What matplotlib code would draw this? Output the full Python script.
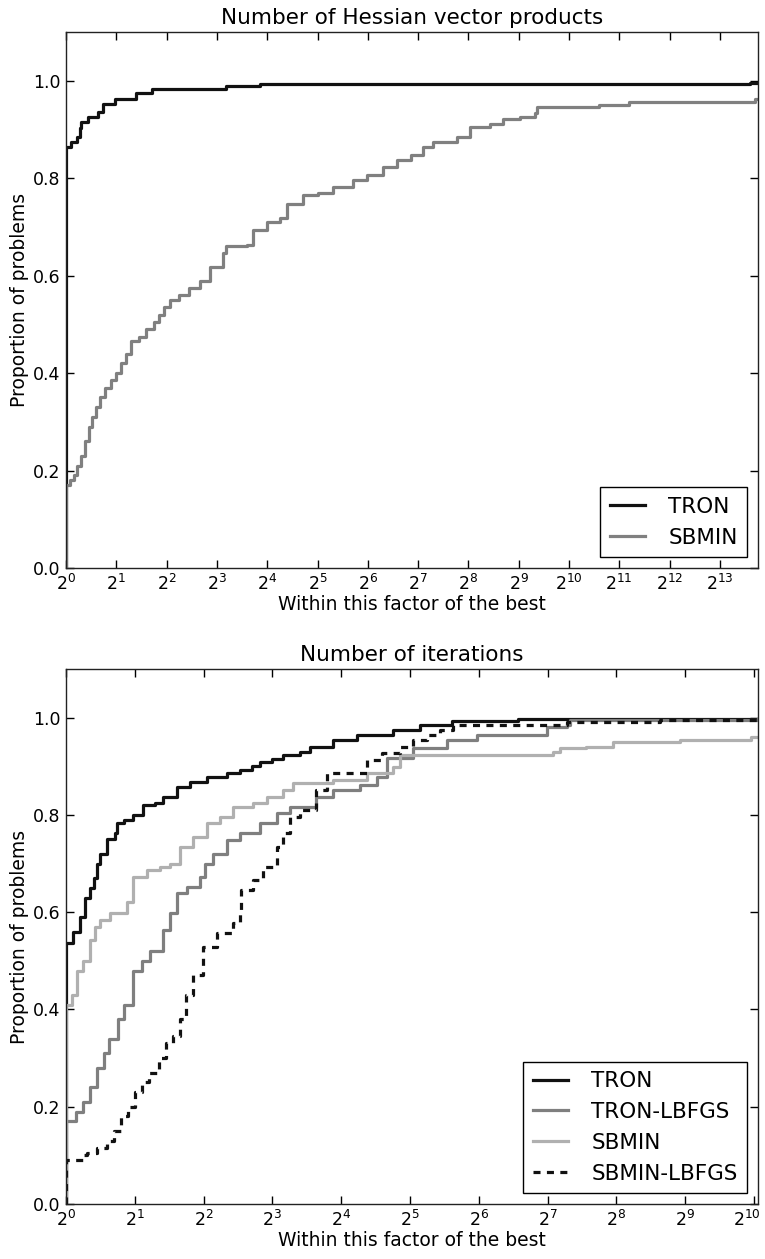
import matplotlib
matplotlib.use('Agg')
import matplotlib.pyplot as plt
from matplotlib.transforms import ScaledTranslation

### Performance profiles, x values are log2 of the ratio to the best solver
### Top panel: number of Hessian vector products
hv_tron_x = [0, 0, 0.1, 0.21, 0.27, 0.3, 0.44, 0.64, 0.74, 0.97, 1.4, 1.7, 3.19, 3.86, 13.6, 13.76]
hv_tron_y = [0, 0.864, 0.875, 0.885, 0.902, 0.916, 0.926, 0.936, 0.953, 0.963, 0.974, 0.984, 0.989, 0.994, 0.996, 0.996]

hv_sbmin_x = [0, 0, 0.08, 0.15, 0.22, 0.3, 0.38, 0.45, 0.52, 0.6, 0.68, 0.78, 0.9, 1.0, 1.1, 1.2, 1.3, 1.45,
              1.6, 1.75, 1.85, 1.95, 2.07, 2.25, 2.45, 2.66, 2.86, 3.12, 3.18, 3.6, 3.72, 3.99, 4.25, 4.39,
              4.72, 5.0, 5.31, 5.71, 5.98, 6.3, 6.58, 6.85, 7.1, 7.3, 7.77, 8.03, 8.43, 8.69, 9.03, 9.32,
              9.36, 10.6, 11.2, 13.7, 13.76]
hv_sbmin_y = [0, 0.17, 0.18, 0.19, 0.21, 0.23, 0.26, 0.29, 0.31, 0.33, 0.35, 0.37, 0.385, 0.40, 0.42, 0.44,
              0.465, 0.475, 0.49, 0.505, 0.52, 0.535, 0.55, 0.56, 0.575, 0.59, 0.617, 0.646, 0.66, 0.663,
              0.693, 0.71, 0.718, 0.748, 0.765, 0.77, 0.782, 0.796, 0.806, 0.823, 0.837, 0.848, 0.864,
              0.874, 0.884, 0.905, 0.911, 0.921, 0.925, 0.933, 0.946, 0.951, 0.957, 0.962, 0.962]

### Bottom panel: number of iterations
it_tron_x = [0, 0, 0.1, 0.2, 0.28, 0.35, 0.4, 0.45, 0.5, 0.59, 0.71, 0.74, 0.85, 0.98, 1.12, 1.3, 1.41, 1.61,
             1.8, 2.05, 2.34, 2.53, 2.7, 2.82, 3.0, 3.16, 3.4, 3.55, 3.88, 4.23, 4.76, 5.14, 5.61, 6.57, 10.06]
it_tron_y = [0, 0.537, 0.56, 0.59, 0.63, 0.65, 0.67, 0.70, 0.72, 0.75, 0.763, 0.783, 0.79, 0.80, 0.82, 0.825,
             0.837, 0.857, 0.868, 0.878, 0.886, 0.892, 0.90, 0.909, 0.915, 0.923, 0.93, 0.94, 0.954, 0.964,
             0.975, 0.985, 0.993, 0.997, 0.997]

it_tronl_x = [0, 0, 0.15, 0.25, 0.35, 0.45, 0.55, 0.62, 0.75, 0.85, 0.98, 1.1, 1.22, 1.41, 1.51, 1.61, 1.76,
              1.95, 2.02, 2.14, 2.34, 2.53, 2.82, 3.07, 3.26, 3.64, 3.88, 4.27, 4.52, 4.67, 5.04, 5.54, 5.98,
              6.99, 7.28, 7.33, 10.06]
it_tronl_y = [0, 0.17, 0.19, 0.21, 0.24, 0.28, 0.31, 0.34, 0.38, 0.41, 0.48, 0.50, 0.52, 0.563, 0.598, 0.64,
              0.652, 0.672, 0.70, 0.72, 0.748, 0.763, 0.783, 0.803, 0.817, 0.837, 0.851, 0.861, 0.878, 0.917,
              0.937, 0.954, 0.964, 0.981, 0.985, 0.995, 0.997]

it_sbmin_x = [0, 0, 0.08, 0.16, 0.25, 0.35, 0.42, 0.5, 0.64, 0.88, 0.98, 1.17, 1.37, 1.51, 1.66, 1.85, 2.05,
              2.24, 2.43, 2.72, 2.92, 3.16, 3.3, 3.88, 4.37, 4.75, 4.85, 7.08, 7.18, 7.56, 7.95, 8.92, 9.95,
              10.06]
it_sbmin_y = [0, 0.41, 0.43, 0.48, 0.50, 0.543, 0.57, 0.584, 0.598, 0.62, 0.672, 0.687, 0.693, 0.70, 0.734,
              0.755, 0.783, 0.796, 0.816, 0.824, 0.837, 0.851, 0.865, 0.872, 0.886, 0.899, 0.923, 0.929,
              0.937, 0.94, 0.95, 0.954, 0.96, 0.96]

it_sbminl_x = [0, 0, 0.25, 0.3, 0.45, 0.6, 0.7, 0.8, 0.9, 1.0, 1.1, 1.2, 1.35, 1.45, 1.55, 1.65, 1.75, 1.85,
               1.99, 2.19, 2.43, 2.53, 2.55, 2.72, 2.86, 3.07, 3.16, 3.26, 3.4, 3.64, 3.79, 4.37, 4.6, 4.85,
               5.04, 5.24, 5.43, 5.62, 7.28, 8.63, 10.06]
it_sbminl_y = [0, 0.09, 0.10, 0.105, 0.115, 0.13, 0.15, 0.18, 0.20, 0.23, 0.25, 0.27, 0.30, 0.33, 0.345,
               0.38, 0.43, 0.47, 0.528, 0.557, 0.578, 0.598, 0.645, 0.666, 0.693, 0.734, 0.763, 0.796, 0.81,
               0.851, 0.886, 0.913, 0.927, 0.94, 0.954, 0.964, 0.975, 0.985, 0.991, 0.995, 0.995]

y_ticks = [0.0, 0.2, 0.4, 0.6, 0.8, 1.0]

LW = 2.3


def style_axes(ax, title, xmax, nticks):
    ax.set_title(title, fontsize=15.5, pad=6)
    ax.set_xlim(0, xmax)
    ax.set_ylim(0, 1.1)
    ax.set_xticks(range(nticks))
    ax.set_xticklabels(['$2^{%d}$' % k for k in range(nticks)])
    ax.set_yticks(y_ticks)
    ax.set_yticklabels(['%.1f' % v for v in y_ticks])
    ax.tick_params(direction='in', top=True, right=True, length=6, width=1,
                   labelsize=12.5, pad=4)
    ax.set_xlabel('Within this factor of the best', fontsize=13.5, labelpad=1)
    ax.set_ylabel('Proportion of problems', fontsize=13.5, labelpad=3)
    for s in ax.spines.values():
        s.set_linewidth(1.0)
        s.set_color('#222222')


def add_legend(ax):
    leg = ax.legend(loc='lower right', fontsize=15.5, fancybox=False, framealpha=1,
                    edgecolor='black', handlelength=1.6, borderpad=0.45, labelspacing=0.5,
                    handletextpad=1.1, borderaxespad=0.5)
    leg.get_frame().set_linewidth(1.0)


fig = plt.figure(figsize=(7.65, 12.59), dpi=100)

ax1 = fig.add_axes([0.0863, 0.5488, 0.9047, 0.4258])
ax1.plot(hv_tron_x, hv_tron_y, drawstyle='steps-post', color='#111111', lw=LW, label='TRON')
ax1.plot(hv_sbmin_x, hv_sbmin_y, drawstyle='steps-post', color='#808080', lw=LW, label='SBMIN')
style_axes(ax1, 'Number of Hessian vector products', 13.76, 14)
add_legend(ax1)

ax2 = fig.add_axes([0.0863, 0.0437, 0.9047, 0.4249])
ax2.plot(it_tron_x, it_tron_y, drawstyle='steps-post', color='#111111', lw=LW, label='TRON')
ax2.plot(it_tronl_x, it_tronl_y, drawstyle='steps-post', color='#7f7f7f', lw=LW, label='TRON-LBFGS')
ax2.plot(it_sbmin_x, it_sbmin_y, drawstyle='steps-post', color='#b0b0b0', lw=LW, label='SBMIN')
ax2.plot(it_sbminl_x, it_sbminl_y, drawstyle='steps-post', color='#111111', lw=LW,
         linestyle=(0, (2.2, 2.0)), label='SBMIN-LBFGS')
style_axes(ax2, 'Number of iterations', 10.06, 11)
add_legend(ax2)

# the last tick label sits right at the figure edge, nudge it inside
last = ax2.get_xticklabels()[-1]
last.set_transform(last.get_transform() + ScaledTranslation(-5 / 72, 0, fig.dpi_scale_trans))

fig.savefig('out.png', dpi=100)
